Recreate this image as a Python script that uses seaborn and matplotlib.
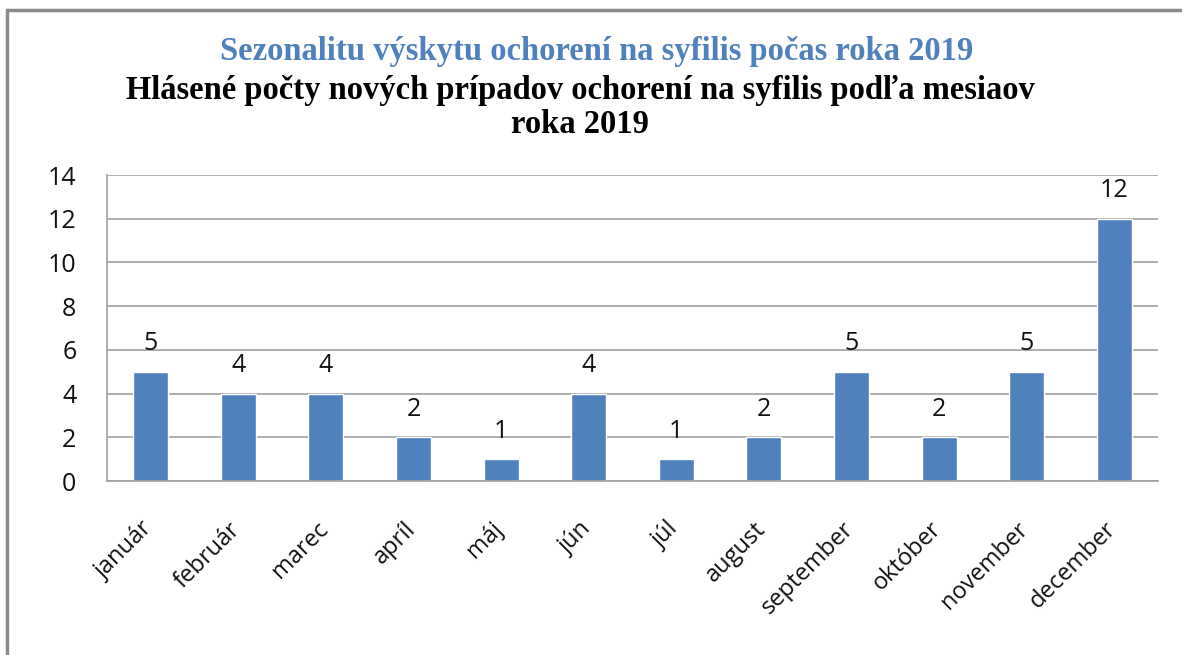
import matplotlib
matplotlib.use('Agg')
import matplotlib.pyplot as plt
import matplotlib.transforms as mtrans
import pandas as pd
import seaborn as sns
from matplotlib.patches import Rectangle

months = ['január', 'február', 'marec', 'apríl', 'máj', 'jún',
          'júl', 'august', 'september', 'október', 'november', 'december']
cases = [5, 4, 4, 2, 1, 4, 1, 2, 5, 2, 5, 12]
yticks = [0, 2, 4, 6, 8, 10, 12, 14]

df = pd.DataFrame({'mesiac': months, 'pocet': cases})

sns.set_style('white')
plt.rcParams['font.family'] = ['Open Sans', 'DejaVu Sans']

fig = plt.figure(figsize=(11.82, 6.55), dpi=100)
ax = fig.add_axes([0.0905, 0.2656, 0.8892, 0.4672])

sns.barplot(data=df, x='mesiac', y='pocet', color='#4F81BD', width=0.4,
            saturation=1, ax=ax)

ax.set_ylim(0, 14)
ax.set_yticks(yticks)
ax.yaxis.grid(True, color='#A0A0A0', linewidth=1.2)
ax.set_axisbelow(True)
ax.set_xlabel('')
ax.set_ylabel('')
for s in ['top', 'right']:
    ax.spines[s].set_visible(False)
for s in ['left', 'bottom']:
    ax.spines[s].set_color('#A0A0A0')
    ax.spines[s].set_linewidth(1.2)
ax.tick_params(axis='y', labelsize=18, length=0, pad=22, labelcolor='#111111')
ax.tick_params(axis='x', labelsize=17, length=0, pad=16, labelcolor='#111111')
plt.setp(ax.get_xticklabels(), rotation=45, ha='right', rotation_mode='anchor')
# nudge month labels down-left like the original
shift = mtrans.ScaledTranslation(-10 / 100, -14 / 100, fig.dpi_scale_trans)
for lab in ax.get_xticklabels():
    lab.set_transform(lab.get_transform() + shift)

for c in ax.containers:
    ax.bar_label(c, fmt='%d', padding=11, fontsize=18, color='#111111')

fig.text(0.505, 0.922, 'Sezonalitu výskytu ochorení na syfilis počas roka 2019',
         ha='center', va='center', fontsize=23.5, fontweight='bold',
         family='Liberation Serif', color='#4F81BD')
fig.text(0.491, 0.862, 'Hlásené počty nových prípadov ochorení na syfilis podľa mesiaov',
         ha='center', va='center', fontsize=23.5, fontweight='bold',
         family='Liberation Serif', color='black')
fig.text(0.491, 0.81, 'roka 2019',
         ha='center', va='center', fontsize=23.5, fontweight='bold',
         family='Liberation Serif', color='black')

fig.patches.append(Rectangle((7 / 1182, -0.05), 1.2, 1 - 10 / 655 + 0.05,
                             transform=fig.transFigure, fill=False,
                             edgecolor='#8C8C8C', linewidth=2.5))

fig.savefig('out.png', dpi=100)
